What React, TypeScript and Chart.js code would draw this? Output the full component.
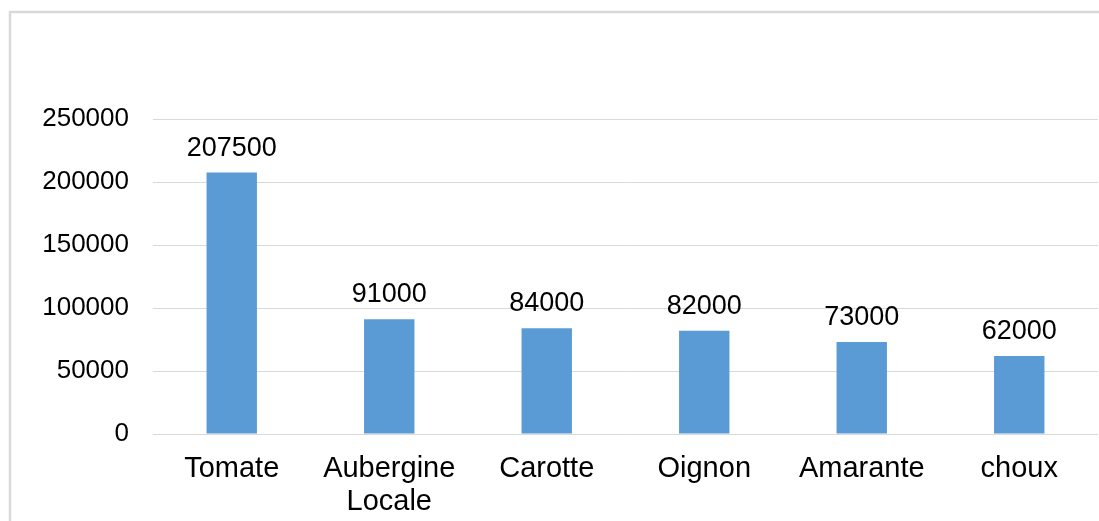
import React, { useEffect, useRef } from "react";
import { Chart, registerables } from "chart.js";

Chart.register(...registerables);

// Vegetable categories (x axis) and their quantities
const categories: (string | string[])[] = [
  "Tomate",
  ["Aubergine", "Locale"],
  "Carotte",
  "Oignon",
  "Amarante",
  "choux",
];
const quantities: number[] = [207500, 91000, 84000, 82000, 73000, 62000];

// Value axis range
const yMin = 0;
const yMax = 250000;
const yStep = 50000;

const FONT = "'Liberation Sans', Arial, sans-serif";
const BAR_COLOR = "#5B9BD5";
const GRID_COLOR = "#d9d9d9";
const TEXT_COLOR = "#000000";

const W = 1099;
const H = 521;

// Light grey frame around the chart object
const framePlugin = {
  id: "frame",
  beforeDraw(chart: Chart) {
    const ctx = chart.ctx;
    ctx.save();
    ctx.fillStyle = "#ffffff";
    ctx.fillRect(0, 0, chart.width, chart.height);
    ctx.strokeStyle = GRID_COLOR;
    ctx.lineWidth = 2.5;
    ctx.beginPath();
    ctx.moveTo(10, chart.height + 5);
    ctx.lineTo(10, 12);
    ctx.lineTo(chart.width + 5, 12);
    ctx.stroke();
    ctx.restore();
  },
};

// Value labels above each bar
const valueLabelPlugin = {
  id: "valueLabels",
  afterDatasetsDraw(chart: Chart) {
    const ctx = chart.ctx;
    const meta = chart.getDatasetMeta(0);
    const data = chart.data.datasets[0].data as number[];
    ctx.save();
    ctx.font = `27px ${FONT}`;
    ctx.fillStyle = TEXT_COLOR;
    ctx.textAlign = "center";
    ctx.textBaseline = "alphabetic";
    meta.data.forEach((bar: any, i: number) => {
      ctx.fillText(String(data[i]), bar.x, bar.y - 17);
    });
    ctx.restore();
  },
};

export default function App() {
  const canvasRef = useRef<HTMLCanvasElement | null>(null);

  useEffect(() => {
    if (!canvasRef.current) return;
    const chart = new Chart(canvasRef.current, {
      type: "bar",
      data: {
        labels: categories,
        datasets: [
          {
            data: quantities,
            backgroundColor: BAR_COLOR,
            borderWidth: 0,
            categoryPercentage: 1,
            barPercentage: 0.32,
          },
        ],
      },
      options: {
        responsive: false,
        animation: false,
        devicePixelRatio: 1,
        layout: { padding: { left: 42, top: 119, right: 1, bottom: 0 } },
        plugins: {
          legend: { display: false },
          tooltip: { enabled: false },
          title: { display: false },
        },
        scales: {
          x: {
            grid: { display: false, drawTicks: false },
            border: { display: false },
            ticks: {
              color: TEXT_COLOR,
              font: { family: FONT, size: 29, lineHeight: 1.14 },
              padding: 18,
              maxRotation: 0,
              autoSkip: false,
            },
            afterFit(scale: any) {
              scale.height = 87;
            },
          },
          y: {
            min: yMin,
            max: yMax,
            grid: { color: GRID_COLOR, lineWidth: 1, drawTicks: false },
            border: { display: false },
            ticks: {
              stepSize: yStep,
              color: TEXT_COLOR,
              font: { family: FONT, size: 26 },
              padding: 24,
              callback: (v: any) => String(v),
            },
            afterFit(scale: any) {
              scale.width = 111;
            },
          },
        },
      },
      plugins: [framePlugin, valueLabelPlugin],
    });
    return () => chart.destroy();
  }, []);

  return (
    <div style={{ position: "fixed", left: 0, top: 0, width: W, height: H, background: "#fff" }}>
      <canvas ref={canvasRef} width={W} height={H} style={{ display: "block" }} />
    </div>
  );
}
